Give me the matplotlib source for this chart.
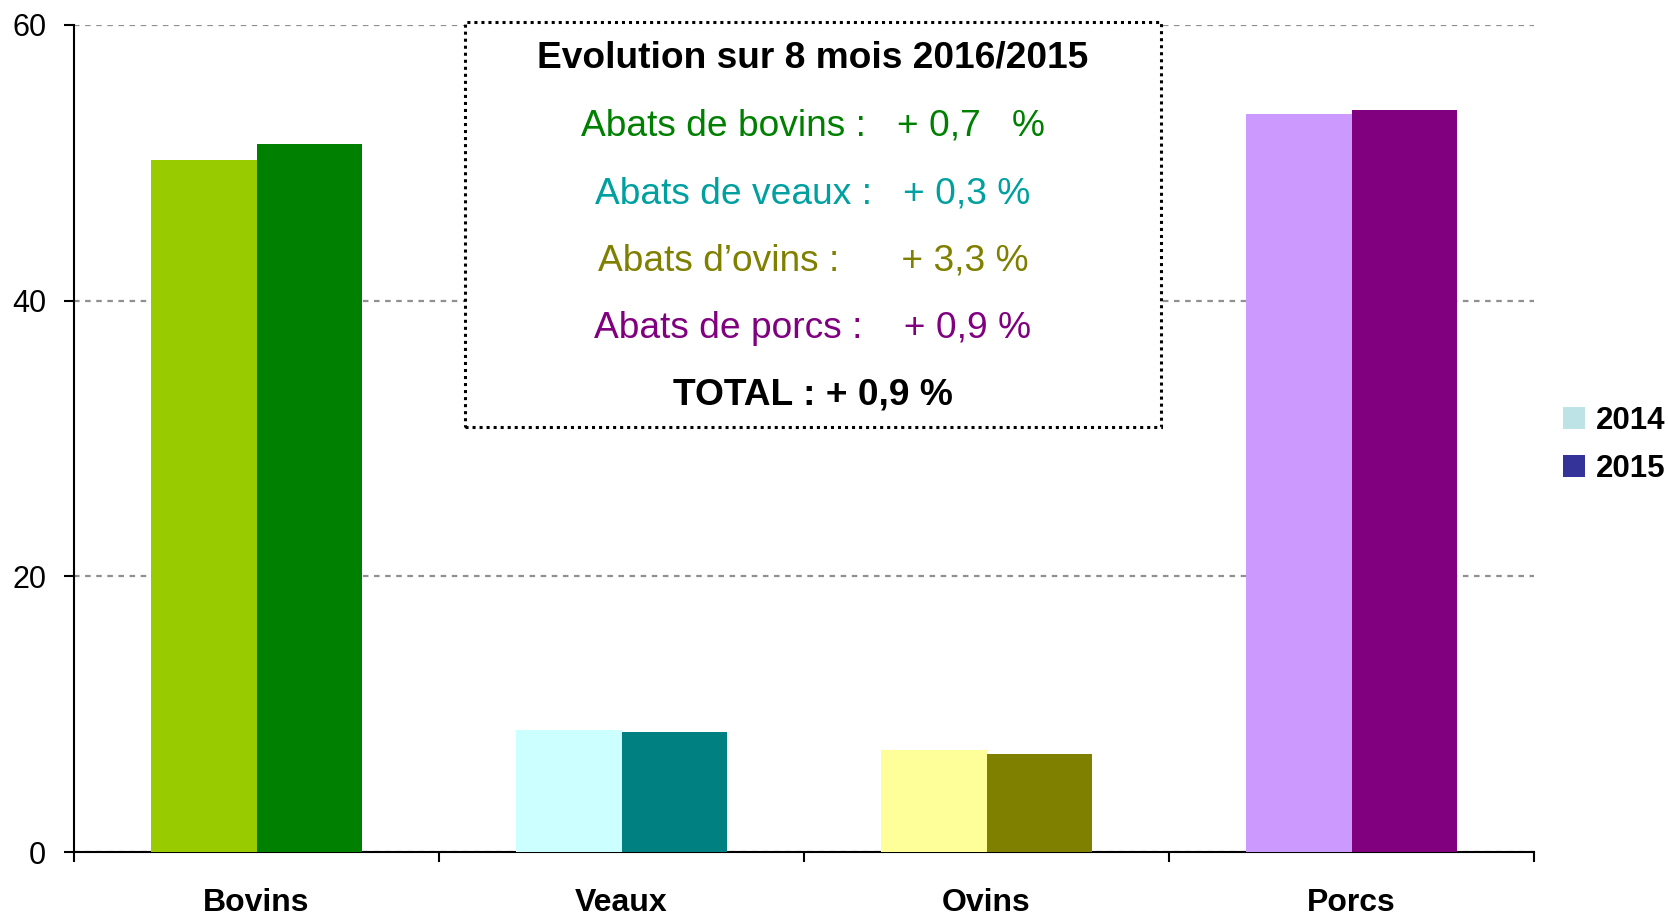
import matplotlib
matplotlib.use("Agg")
import numpy as np
import matplotlib.pyplot as plt
from matplotlib.patches import Rectangle, Patch

plt.rcParams['font.family'] = ['Liberation Sans', 'DejaVu Sans']

# Data
categories = ["Bovins", "Veaux", "Ovins", "Porcs"]
years = ["2014", "2015"]
values_2014 = [50.2, 8.85, 7.4, 53.55]
values_2015 = [51.4, 8.7, 7.1, 53.85]

colors_2014 = ["#99CC00", "#CCFFFF", "#FFFF99", "#CC99FF"]
colors_2015 = ["#008000", "#008080", "#808000", "#800080"]
legend_colors = ["#BDE3E6", "#333399"]

box_title = "Evolution sur 8 mois 2016/2015"
box_lines = [
    ("Abats de bovins :   + 0,7   %", "#008000"),
    ("Abats de veaux :   + 0,3 %", "#00A0A0"),
    ("Abats d\u2019ovins :      + 3,3 %", "#808000"),
    ("Abats de porcs :    + 0,9 %", "#800080"),
]
box_total = "TOTAL : + 0,9 %"

W, H = 1668, 917
fig = plt.figure(figsize=(W / 100, H / 100), dpi=100)
ax = fig.add_axes([74 / W, 1 - 852 / H, (1534 - 74) / W, (852 - 25) / H])

x = np.arange(len(categories))
w = 0.29
ax.bar(x - w / 2, values_2014, w, color=colors_2014, zorder=3)
ax.bar(x + w / 2, values_2015, w, color=colors_2015, zorder=3)

ax.set_xlim(-0.5, len(categories) - 0.5)
ax.set_ylim(0, 60)
ax.set_yticks([0, 20, 40, 60])
ax.tick_params(axis="y", labelsize=22, length=7, width=1.5, pad=13, direction="out")

# category labels at centres, ticks at boundaries
ax.set_xticks(x)
ax.set_xticklabels(categories, fontsize=23, fontweight="bold")
ax.tick_params(axis="x", which="major", length=0, pad=26)
ax.set_xticks(np.arange(-0.5, len(categories)), minor=True)
ax.tick_params(axis="x", which="minor", length=7, width=1.5, direction="out")

for s in ["top", "right"]:
    ax.spines[s].set_visible(False)
for s in ["left", "bottom"]:
    ax.spines[s].set_linewidth(1.5)

ax.yaxis.grid(True, color="#909090", linestyle=(0, (2.5, 2.5)), linewidth=1.6, zorder=0)
ax.set_axisbelow(True)

# text box
box = Rectangle((465 / W, 1 - 427 / H), (1161 - 465) / W, (427 - 22) / H,
                transform=fig.transFigure, facecolor="white", edgecolor="black",
                linestyle=(0, (1, 1.3)), linewidth=2.2, zorder=5)
fig.patches.append(box)

cx = 813 / W
fig.text(cx, 1 - 58 / H, box_title, fontsize=26.7, fontweight="bold",
         ha="center", va="center", zorder=6)
line_y = [126, 194, 261, 328]
for (txt, col), yy in zip(box_lines, line_y):
    fig.text(cx, 1 - yy / H, txt, fontsize=26.7, color=col,
             ha="center", va="center", zorder=6)
fig.text(cx, 1 - 395 / H, box_total, fontsize=26.7, fontweight="bold",
         ha="center", va="center", zorder=6)

# legend
handles = [Patch(facecolor=c, edgecolor="none") for c in legend_colors]
leg = fig.legend(handles, years, loc="center left", bbox_to_anchor=(1563 / W, 1 - 445 / H),
                 frameon=False, prop={"size": 22.5, "weight": "bold"},
                 handlelength=0.7, handleheight=0.7, handletextpad=0.35,
                 labelspacing=0.6, borderpad=0, borderaxespad=0)

fig.savefig("out.png", dpi=100)
